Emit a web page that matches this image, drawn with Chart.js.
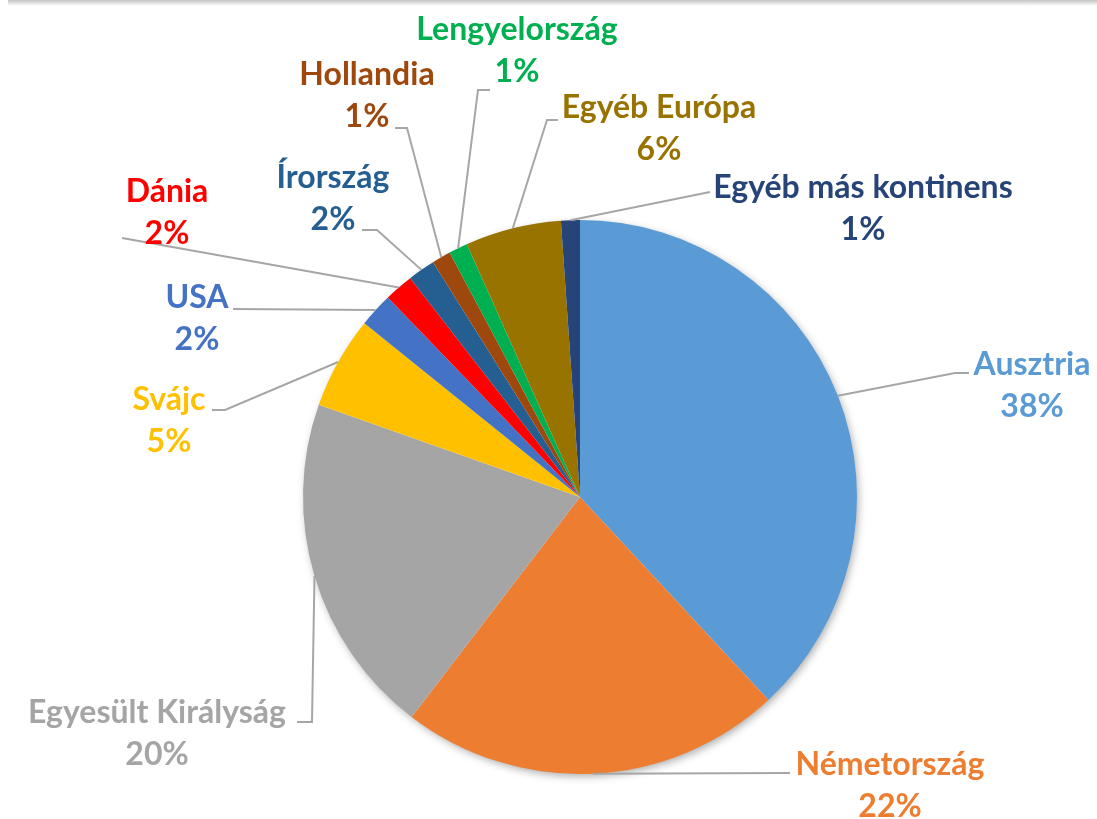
<!DOCTYPE html>
<html>
<head>
<meta charset="utf-8">
<script src="https://cdn.jsdelivr.net/npm/chart.js@4/dist/chart.umd.min.js"></script>
<style>
  html, body { margin: 0; padding: 0; background: #fff; }
  #wrap { position: relative; width: 1097px; height: 819px; }
  #topline { position: absolute; left: 8px; right: 0; top: 0; height: 6px;
    background: linear-gradient(#c4c4c4, #ffffff); }
</style>
</head>
<body>
<div id="wrap">
  <div id="topline"></div>
  <canvas id="my-chart" width="1097" height="819"></canvas>
</div>
<script>
// data (share of total, %)
const labels = ['Ausztria', 'Németország', 'Egyesült Királyság', 'Svájc', 'USA', 'Dánia',
  'Írország', 'Hollandia', 'Lengyelország', 'Egyéb Európa', 'Egyéb más kontinens'];
const values = [38.1, 22.3, 20.0, 5.4, 2.0, 1.7, 1.6, 1.1, 1.1, 5.6, 1.1];
const colors = ['#5B9BD5', '#ED7D31', '#A5A5A5', '#FFC000', '#4472C4', '#FF0000',
  '#255E91', '#9E480E', '#00B050', '#997300', '#264478'];

// where each label sits (center of first line) and how its leader line bends
const labelPos = [[1032, 365], [890, 765], [157, 713], [169, 400], [197, 298], [167, 192],
  [333, 178], [367, 75], [517, 30], [659, 108], [863, 188]];
const leaderBend = [[955, 373], null, [312, 722], [225, 410], null, null,
  [377, 230], [407, 128], [478, 90], [547, 120], null];
const leaderEnd = [[969, 373], [790, 773], [297, 722], [212, 410], [233, 309], [122, 238],
  [362, 230], [395, 128], [490, 90], [558, 120], [710, 192]];

// soft shadow under the whole pie
const pieShadow = {
  id: 'pieShadow',
  beforeDatasetsDraw(chart) {
    const arc = chart.getDatasetMeta(0).data[0];
    if (!arc) return;
    const { x, y, outerRadius } = arc.getProps(['x', 'y', 'outerRadius'], true);
    const ctx = chart.ctx;
    ctx.save();
    ctx.shadowColor = 'rgba(0,0,0,0.35)';
    ctx.shadowBlur = 8;
    ctx.shadowOffsetX = 2;
    ctx.shadowOffsetY = 3;
    ctx.fillStyle = '#ffffff';
    ctx.beginPath();
    ctx.arc(x, y, outerRadius - 1, 0, Math.PI * 2);
    ctx.fill();
    ctx.restore();
  }
};

// labels with leader lines, like the data callouts of the original
const callouts = {
  id: 'callouts',
  afterDatasetsDraw(chart) {
    const ctx = chart.ctx;
    const meta = chart.getDatasetMeta(0);
    ctx.save();
    meta.data.forEach((arc, i) => {
      const p = arc.getProps(['x', 'y', 'startAngle', 'endAngle', 'outerRadius'], true);
      const mid = (p.startAngle + p.endAngle) / 2;
      const sx = p.x + Math.cos(mid) * p.outerRadius;
      const sy = p.y + Math.sin(mid) * p.outerRadius;

      ctx.strokeStyle = '#A6A6A6';
      ctx.lineWidth = 2;
      ctx.beginPath();
      ctx.moveTo(sx, sy);
      if (leaderBend[i]) ctx.lineTo(leaderBend[i][0], leaderBend[i][1]);
      ctx.lineTo(leaderEnd[i][0], leaderEnd[i][1]);
      ctx.stroke();
    });
    meta.data.forEach((arc, i) => {
      ctx.fillStyle = colors[i];
      ctx.font = 'bold 32px Lato';
      ctx.textAlign = 'center';
      ctx.textBaseline = 'middle';
      const [lx, ly] = labelPos[i];
      ctx.fillText(labels[i], lx, ly);
      ctx.fillText(Math.round(values[i]) + '%', lx, ly + 42);
    });
    ctx.restore();
  }
};

const ctx = document.getElementById('my-chart').getContext('2d');

new Chart(ctx, {
  type: 'pie',
  data: {
    labels,
    datasets: [{
      data: values,
      backgroundColor: colors,
      borderWidth: 0
    }]
  },
  options: {
    responsive: false,
    animation: false,
    layout: { padding: { top: 220, bottom: 45, left: 303, right: 240 } },
    plugins: {
      legend: { display: false },
      tooltip: { enabled: false }
    }
  },
  plugins: [pieShadow, callouts]
});
</script>
</body>
</html>
